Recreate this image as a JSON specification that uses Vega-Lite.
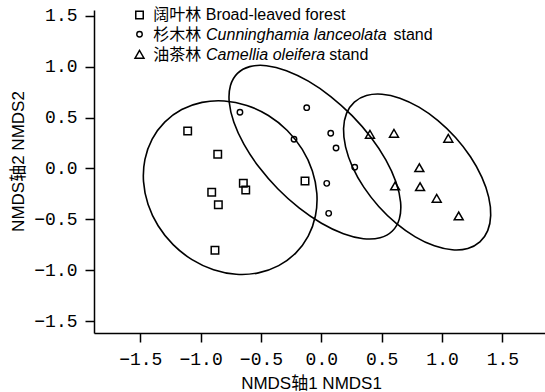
{
  "$schema": "https://vega.github.io/schema/vega-lite/v6.json",
  "width": 451,
  "height": 323,
  "autosize": {"type": "none"},
  "padding": {"left": 94, "top": 10, "right": 0, "bottom": 59},
  "background": "white",
  "config": {
    "view": {"stroke": null},
    "axis": {
      "grid": false,
      "domainColor": "black",
      "domainWidth": 1.5,
      "tickColor": "black",
      "tickWidth": 1.5,
      "tickSize": 9,
      "labelColor": "black",
      "labelFont": "Liberation Mono",
      "labelFontSize": 18,
      "titleColor": "black",
      "titleFont": "Liberation Sans, Noto Sans CJK SC",
      "titleFontSize": 17,
      "titleFontWeight": "normal"
    }
  },
  "datasets": {
    "pts": [
      {"group": "Broad-leaved forest", "NMDS1": -1.107, "NMDS2": 0.369},
      {"group": "Broad-leaved forest", "NMDS1": -0.858, "NMDS2": 0.140},
      {"group": "Broad-leaved forest", "NMDS1": -0.646, "NMDS2": -0.146},
      {"group": "Broad-leaved forest", "NMDS1": -0.626, "NMDS2": -0.211},
      {"group": "Broad-leaved forest", "NMDS1": -0.908, "NMDS2": -0.234},
      {"group": "Broad-leaved forest", "NMDS1": -0.853, "NMDS2": -0.356},
      {"group": "Broad-leaved forest", "NMDS1": -0.881, "NMDS2": -0.804},
      {"group": "Broad-leaved forest", "NMDS1": -0.135, "NMDS2": -0.123},
      {"group": "Cunninghamia lanceolata stand", "NMDS1": -0.674, "NMDS2": 0.553},
      {"group": "Cunninghamia lanceolata stand", "NMDS1": -0.121, "NMDS2": 0.598},
      {"group": "Cunninghamia lanceolata stand", "NMDS1": -0.226, "NMDS2": 0.287},
      {"group": "Cunninghamia lanceolata stand", "NMDS1": 0.078, "NMDS2": 0.346},
      {"group": "Cunninghamia lanceolata stand", "NMDS1": 0.122, "NMDS2": 0.202},
      {"group": "Cunninghamia lanceolata stand", "NMDS1": 0.277, "NMDS2": 0.012},
      {"group": "Cunninghamia lanceolata stand", "NMDS1": 0.045, "NMDS2": -0.146},
      {"group": "Cunninghamia lanceolata stand", "NMDS1": 0.061, "NMDS2": -0.441},
      {"group": "Camellia oleifera stand", "NMDS1": 0.403, "NMDS2": 0.336},
      {"group": "Camellia oleifera stand", "NMDS1": 0.602, "NMDS2": 0.346},
      {"group": "Camellia oleifera stand", "NMDS1": 1.052, "NMDS2": 0.297},
      {"group": "Camellia oleifera stand", "NMDS1": 0.812, "NMDS2": 0.008},
      {"group": "Camellia oleifera stand", "NMDS1": 0.611, "NMDS2": -0.172},
      {"group": "Camellia oleifera stand", "NMDS1": 0.818, "NMDS2": -0.179},
      {"group": "Camellia oleifera stand", "NMDS1": 0.956, "NMDS2": -0.293},
      {"group": "Camellia oleifera stand", "NMDS1": 1.138, "NMDS2": -0.467}
    ],
    "key": [
      {"group": "Broad-leaved forest", "NMDS1": -1.506, "NMDS2": 1.509},
      {"group": "Cunninghamia lanceolata stand", "NMDS1": -1.506, "NMDS2": 1.320},
      {"group": "Camellia oleifera stand", "NMDS1": -1.506, "NMDS2": 1.123}
    ],
    "keytext": [
      {"text": "阔叶林 Broad-leaved forest", "latin": false, "NMDS1": -1.392, "NMDS2": 1.460},
      {"text": "杉木林", "latin": false, "NMDS1": -1.392, "NMDS2": 1.2635},
      {"text": "Cunninghamia lanceolata", "latin": true, "NMDS1": -0.955, "NMDS2": 1.2635},
      {"text": "stand", "latin": false, "NMDS1": 0.598, "NMDS2": 1.2635},
      {"text": "油茶林", "latin": false, "NMDS1": -1.392, "NMDS2": 1.0669},
      {"text": "Camellia oleifera", "latin": true, "NMDS1": -0.955, "NMDS2": 1.0669},
      {"text": "stand", "latin": false, "NMDS1": 0.066, "NMDS2": 1.0669}
    ],
    "ell": [
      {"group": "Broad-leaved forest", "i": 0, "NMDS1": -0.2123, "NMDS2": -0.8317},
      {"group": "Broad-leaved forest", "i": 1, "NMDS1": -0.3532, "NMDS2": -0.9550},
      {"group": "Broad-leaved forest", "i": 2, "NMDS1": -0.5214, "NMDS2": -1.0260},
      {"group": "Broad-leaved forest", "i": 3, "NMDS1": -0.7055, "NMDS2": -1.0399},
      {"group": "Broad-leaved forest", "i": 4, "NMDS1": -0.8929, "NMDS2": -0.9957},
      {"group": "Broad-leaved forest", "i": 5, "NMDS1": -1.0711, "NMDS2": -0.8964},
      {"group": "Broad-leaved forest", "i": 6, "NMDS1": -1.2276, "NMDS2": -0.7489},
      {"group": "Broad-leaved forest", "i": 7, "NMDS1": -1.3519, "NMDS2": -0.5632},
      {"group": "Broad-leaved forest", "i": 8, "NMDS1": -1.4355, "NMDS2": -0.3517},
      {"group": "Broad-leaved forest", "i": 9, "NMDS1": -1.4727, "NMDS2": -0.1293},
      {"group": "Broad-leaved forest", "i": 10, "NMDS1": -1.4610, "NMDS2": 0.0892},
      {"group": "Broad-leaved forest", "i": 11, "NMDS1": -1.4012, "NMDS2": 0.2890},
      {"group": "Broad-leaved forest", "i": 12, "NMDS1": -1.2973, "NMDS2": 0.4561},
      {"group": "Broad-leaved forest", "i": 13, "NMDS1": -1.1564, "NMDS2": 0.5794},
      {"group": "Broad-leaved forest", "i": 14, "NMDS1": -0.9882, "NMDS2": 0.6504},
      {"group": "Broad-leaved forest", "i": 15, "NMDS1": -0.8041, "NMDS2": 0.6643},
      {"group": "Broad-leaved forest", "i": 16, "NMDS1": -0.6167, "NMDS2": 0.6201},
      {"group": "Broad-leaved forest", "i": 17, "NMDS1": -0.4385, "NMDS2": 0.5208},
      {"group": "Broad-leaved forest", "i": 18, "NMDS1": -0.2820, "NMDS2": 0.3733},
      {"group": "Broad-leaved forest", "i": 19, "NMDS1": -0.1577, "NMDS2": 0.1876},
      {"group": "Broad-leaved forest", "i": 20, "NMDS1": -0.0741, "NMDS2": -0.0239},
      {"group": "Broad-leaved forest", "i": 21, "NMDS1": -0.0369, "NMDS2": -0.2463},
      {"group": "Broad-leaved forest", "i": 22, "NMDS1": -0.0486, "NMDS2": -0.4648},
      {"group": "Broad-leaved forest", "i": 23, "NMDS1": -0.1084, "NMDS2": -0.6646},
      {"group": "Cunninghamia lanceolata stand", "i": 0, "NMDS1": 0.5887, "NMDS2": -0.6147},
      {"group": "Cunninghamia lanceolata stand", "i": 1, "NMDS1": 0.4871, "NMDS2": -0.6812},
      {"group": "Cunninghamia lanceolata stand", "i": 2, "NMDS1": 0.3487, "NMDS2": -0.6905},
      {"group": "Cunninghamia lanceolata stand", "i": 3, "NMDS1": 0.1830, "NMDS2": -0.6416},
      {"group": "Cunninghamia lanceolata stand", "i": 4, "NMDS1": 0.0013, "NMDS2": -0.5382},
      {"group": "Cunninghamia lanceolata stand", "i": 5, "NMDS1": -0.1843, "NMDS2": -0.3872},
      {"group": "Cunninghamia lanceolata stand", "i": 6, "NMDS1": -0.3609, "NMDS2": -0.1988},
      {"group": "Cunninghamia lanceolata stand", "i": 7, "NMDS1": -0.5165, "NMDS2": 0.0140},
      {"group": "Cunninghamia lanceolata stand", "i": 8, "NMDS1": -0.6405, "NMDS2": 0.2368},
      {"group": "Cunninghamia lanceolata stand", "i": 9, "NMDS1": -0.7244, "NMDS2": 0.4544},
      {"group": "Cunninghamia lanceolata stand", "i": 10, "NMDS1": -0.7627, "NMDS2": 0.6519},
      {"group": "Cunninghamia lanceolata stand", "i": 11, "NMDS1": -0.7525, "NMDS2": 0.8160},
      {"group": "Cunninghamia lanceolata stand", "i": 12, "NMDS1": -0.6947, "NMDS2": 0.9353},
      {"group": "Cunninghamia lanceolata stand", "i": 13, "NMDS1": -0.5931, "NMDS2": 1.0018},
      {"group": "Cunninghamia lanceolata stand", "i": 14, "NMDS1": -0.4547, "NMDS2": 1.0111},
      {"group": "Cunninghamia lanceolata stand", "i": 15, "NMDS1": -0.2890, "NMDS2": 0.9622},
      {"group": "Cunninghamia lanceolata stand", "i": 16, "NMDS1": -0.1073, "NMDS2": 0.8588},
      {"group": "Cunninghamia lanceolata stand", "i": 17, "NMDS1": 0.0783, "NMDS2": 0.7078},
      {"group": "Cunninghamia lanceolata stand", "i": 18, "NMDS1": 0.2549, "NMDS2": 0.5194},
      {"group": "Cunninghamia lanceolata stand", "i": 19, "NMDS1": 0.4105, "NMDS2": 0.3066},
      {"group": "Cunninghamia lanceolata stand", "i": 20, "NMDS1": 0.5345, "NMDS2": 0.0838},
      {"group": "Cunninghamia lanceolata stand", "i": 21, "NMDS1": 0.6184, "NMDS2": -0.1338},
      {"group": "Cunninghamia lanceolata stand", "i": 22, "NMDS1": 0.6567, "NMDS2": -0.3313},
      {"group": "Cunninghamia lanceolata stand", "i": 23, "NMDS1": 0.6465, "NMDS2": -0.4954},
      {"group": "Camellia oleifera stand", "i": 0, "NMDS1": 1.3138, "NMDS2": -0.7223},
      {"group": "Camellia oleifera stand", "i": 1, "NMDS1": 1.2137, "NMDS2": -0.7866},
      {"group": "Camellia oleifera stand", "i": 2, "NMDS1": 1.0850, "NMDS2": -0.7995},
      {"group": "Camellia oleifera stand", "i": 3, "NMDS1": 0.9365, "NMDS2": -0.7604},
      {"group": "Camellia oleifera stand", "i": 4, "NMDS1": 0.7782, "NMDS2": -0.6718},
      {"group": "Camellia oleifera stand", "i": 5, "NMDS1": 0.6209, "NMDS2": -0.5397},
      {"group": "Camellia oleifera stand", "i": 6, "NMDS1": 0.4755, "NMDS2": -0.3732},
      {"group": "Camellia oleifera stand", "i": 7, "NMDS1": 0.3517, "NMDS2": -0.1837},
      {"group": "Camellia oleifera stand", "i": 8, "NMDS1": 0.2580, "NMDS2": 0.0162},
      {"group": "Camellia oleifera stand", "i": 9, "NMDS1": 0.2009, "NMDS2": 0.2124},
      {"group": "Camellia oleifera stand", "i": 10, "NMDS1": 0.1842, "NMDS2": 0.3919},
      {"group": "Camellia oleifera stand", "i": 11, "NMDS1": 0.2089, "NMDS2": 0.5424},
      {"group": "Camellia oleifera stand", "i": 12, "NMDS1": 0.2736, "NMDS2": 0.6535},
      {"group": "Camellia oleifera stand", "i": 13, "NMDS1": 0.3737, "NMDS2": 0.7178},
      {"group": "Camellia oleifera stand", "i": 14, "NMDS1": 0.5024, "NMDS2": 0.7307},
      {"group": "Camellia oleifera stand", "i": 15, "NMDS1": 0.6509, "NMDS2": 0.6916},
      {"group": "Camellia oleifera stand", "i": 16, "NMDS1": 0.8092, "NMDS2": 0.6030},
      {"group": "Camellia oleifera stand", "i": 17, "NMDS1": 0.9665, "NMDS2": 0.4709},
      {"group": "Camellia oleifera stand", "i": 18, "NMDS1": 1.1119, "NMDS2": 0.3044},
      {"group": "Camellia oleifera stand", "i": 19, "NMDS1": 1.2357, "NMDS2": 0.1149},
      {"group": "Camellia oleifera stand", "i": 20, "NMDS1": 1.3294, "NMDS2": -0.0850},
      {"group": "Camellia oleifera stand", "i": 21, "NMDS1": 1.3865, "NMDS2": -0.2812},
      {"group": "Camellia oleifera stand", "i": 22, "NMDS1": 1.4032, "NMDS2": -0.4607},
      {"group": "Camellia oleifera stand", "i": 23, "NMDS1": 1.3785, "NMDS2": -0.6112}
    ]
  },
  "encoding": {
    "x": {
      "field": "NMDS1",
      "type": "quantitative",
      "scale": {"domain": [-1.883, 1.853], "nice": false, "zero": false},
      "axis": {
        "values": [-1.5, -1, -0.5, 0, 0.5, 1, 1.5],
        "format": ".1f",
        "labelPadding": 8,
        "title": "NMDS轴1 NMDS1",
        "titleX": 217,
        "titleY": 55,
        "titleAlign": "center",
        "titleBaseline": "alphabetic"
      }
    },
    "y": {
      "field": "NMDS2",
      "type": "quantitative",
      "scale": {"domain": [-1.6175, 1.5585], "nice": false, "zero": false},
      "axis": {
        "values": [-1.5, -1, -0.5, 0, 0.5, 1, 1.5],
        "format": ".1f",
        "labelPadding": 8,
        "title": "NMDS轴2 NMDS2",
        "titleX": -71,
        "titleY": 151,
        "titleAngle": -90,
        "titleAlign": "center",
        "titleBaseline": "alphabetic"
      }
    }
  },
  "layer": [
    {
      "data": {"name": "ell"},
      "mark": {"type": "line", "interpolate": "cardinal-closed", "color": "black", "strokeWidth": 1.6},
      "encoding": {
        "detail": {"field": "group", "type": "nominal"},
        "order": {"field": "i", "type": "quantitative"}
      }
    },
    {
      "data": {"name": "pts"},
      "transform": [{"filter": "datum.group === 'Broad-leaved forest'"}],
      "mark": {"type": "point", "shape": "square", "size": 56, "filled": false, "color": "black", "strokeWidth": 1.5, "opacity": 1}
    },
    {
      "data": {"name": "pts"},
      "transform": [{"filter": "datum.group === 'Cunninghamia lanceolata stand'"}],
      "mark": {"type": "point", "shape": "circle", "size": 30, "filled": false, "color": "black", "strokeWidth": 1.4, "opacity": 1}
    },
    {
      "data": {"name": "pts"},
      "transform": [{"filter": "datum.group === 'Camellia oleifera stand'"}],
      "mark": {"type": "point", "shape": "triangle-up", "size": 80, "filled": false, "color": "black", "strokeWidth": 1.5, "opacity": 1}
    },
    {
      "data": {"name": "key"},
      "transform": [{"filter": "datum.group === 'Broad-leaved forest'"}],
      "mark": {"type": "point", "shape": "square", "size": 56, "filled": false, "color": "black", "strokeWidth": 1.5, "opacity": 1}
    },
    {
      "data": {"name": "key"},
      "transform": [{"filter": "datum.group === 'Cunninghamia lanceolata stand'"}],
      "mark": {"type": "point", "shape": "circle", "size": 30, "filled": false, "color": "black", "strokeWidth": 1.4, "opacity": 1}
    },
    {
      "data": {"name": "key"},
      "transform": [{"filter": "datum.group === 'Camellia oleifera stand'"}],
      "mark": {"type": "point", "shape": "triangle-up", "size": 80, "filled": false, "color": "black", "strokeWidth": 1.5, "opacity": 1}
    },
    {
      "data": {"name": "keytext"},
      "transform": [{"filter": "!datum.latin"}],
      "mark": {"type": "text", "align": "left", "baseline": "alphabetic", "font": "Liberation Sans, Noto Sans CJK SC", "fontSize": 16, "color": "black"},
      "encoding": {"text": {"field": "text"}}
    },
    {
      "data": {"name": "keytext"},
      "transform": [{"filter": "datum.latin"}],
      "mark": {"type": "text", "align": "left", "baseline": "alphabetic", "font": "Liberation Sans", "fontStyle": "italic", "fontSize": 16, "color": "black"},
      "encoding": {"text": {"field": "text"}}
    }
  ]
}
